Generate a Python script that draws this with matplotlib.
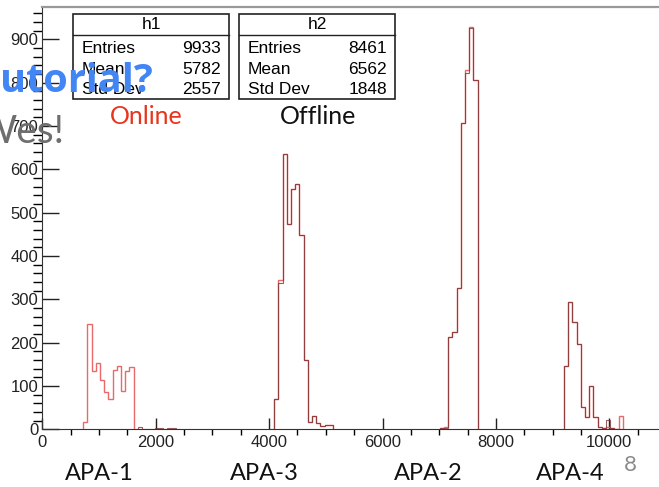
import numpy as np
import matplotlib
matplotlib.use("Agg")
import matplotlib.pyplot as plt
from matplotlib.patches import Rectangle
from matplotlib.lines import Line2D
from matplotlib.ticker import MultipleLocator

# ---------------- data ----------------
bin_width = 74

apa1_start = 723
online_apa1 = [17, 242, 134, 152, 114, 85, 70, 137, 147, 89, 134, 144]
offline_apa1 = [0] * 12

bump_start = 1685
online_bump = [0, 0, 0, 0, 0, 0, 0, 0, 0, 0]
offline_bump = [6, 0, 0, 0, 2, 2, 1, 2, 2, 0]

apa3_start = 4090
online_apa3 = [71, 345, 635, 473, 554, 565, 448, 160, 17, 30, 15, 7, 11, 11]
offline_apa3 = [71, 337, 635, 473, 554, 565, 448, 160, 17, 30, 15, 7, 11, 11]

apa2_start = 7012
online_apa2 = [3, 5, 212, 225, 325, 708, 829, 928, 806]
offline_apa2 = [2, 4, 212, 225, 325, 708, 822, 925, 806]

apa4_start = 9201
online_apa4 = [146, 294, 248, 198, 52, 28, 100, 28, 6, 2, 6, 2, 0, 30]
offline_apa4 = [146, 294, 248, 198, 52, 28, 100, 28, 6, 2, 22, 4, 0, 0]

stats_h1 = {"name": "h1", "Entries": "9933", "Mean": "5782", "Std Dev": "2557"}
stats_h2 = {"name": "h2", "Entries": "8461", "Mean": "6562", "Std Dev": "1848"}

apa_labels = ["APA-1", "APA-3", "APA-2", "APA-4"]

# ---------------- figure ----------------
W_px, H_px = 659, 487
fig = plt.figure(figsize=(W_px / 100, H_px / 100), dpi=100)
fig.patch.set_facecolor("white")

def fx(x):
    return x / W_px

def fy(y):
    return 1 - y / H_px

ax_left, ax_top, ax_bottom = 42.3, 7.3, 429.3
x_max = 11500
px_per_unit = 0.0567
ax_right = ax_left + x_max * px_per_unit
ax = fig.add_axes([fx(ax_left), fy(ax_bottom), (ax_right - ax_left) / W_px,
                   (ax_bottom - ax_top) / H_px])
ax.set_xlim(0, x_max)
ax.set_ylim(0, (ax_bottom - ax_top) / 0.4333)

online_color = "#E86A6A"
offline_color = "#7E3434"

segments = [
    (apa1_start, online_apa1, offline_apa1),
    (bump_start, online_bump, offline_bump),
    (apa3_start, online_apa3, offline_apa3),
    (apa2_start, online_apa2, offline_apa2),
    (apa4_start, online_apa4, offline_apa4),
]
for start, on, off in segments:
    edges = start + bin_width * np.arange(len(on) + 1)
    if any(v > 0 for v in on):
        ax.stairs(on, edges, color=online_color, lw=1.0, zorder=3)
    if any(v > 0 for v in off):
        ax.stairs(off, edges, color=offline_color, lw=0.8, alpha=0.8, zorder=4)

ax.spines["right"].set_visible(False)
ax.spines["top"].set_color("#999999")
ax.spines["top"].set_linewidth(1.6)
ax.spines["left"].set_color("#333333")
ax.spines["bottom"].set_color("#333333")

ax.xaxis.set_major_locator(MultipleLocator(2000))
ax.xaxis.set_minor_locator(MultipleLocator(500))
ax.yaxis.set_major_locator(MultipleLocator(100))
ax.yaxis.set_minor_locator(MultipleLocator(20))
ax.tick_params(axis="both", direction="in", labelsize=12, colors="#222222",
               labelfontfamily="Liberation Sans")
ax.tick_params(axis="x", which="major", length=8, width=1, pad=4, top=False)
ax.tick_params(axis="x", which="minor", length=4.5, width=1, top=False)
ax.tick_params(axis="y", which="major", length=12.5, width=1, pad=3, right=False)
ax.tick_params(axis="y", which="minor", length=6.5, width=1, right=False)

# ---------------- stats boxes ----------------
def stats_box(st, left, right, top, bottom, header_line):
    fig.add_artist(Rectangle((fx(left), fy(bottom)), fx(right) - fx(left),
                             fy(top) - fy(bottom), transform=fig.transFigure,
                             facecolor="white", edgecolor="#222222", lw=1.2,
                             zorder=5))
    fig.add_artist(Line2D([fx(left), fx(right)], [fy(header_line)] * 2,
                          transform=fig.transFigure, color="#222222", lw=1.0,
                          zorder=6))
    fig.text(fx((left + right) / 2), fy((top + header_line) / 2), st["name"],
             ha="center", va="center", fontsize=12.5,
             family="Liberation Sans", zorder=7)
    for key, base in zip(["Entries", "Mean", "Std Dev"], [53, 74, 94.5]):
        fig.text(fx(left + 8.5), fy(base), key, ha="left", va="baseline",
                 fontsize=12.5, family="Liberation Sans", zorder=7)
        fig.text(fx(right - 7.8), fy(base), st[key], ha="right", va="baseline",
                 fontsize=12.5, family="Liberation Sans", zorder=7)

stats_box(stats_h1, 73.3, 229, 14.3, 99, 35)
stats_box(stats_h2, 239, 395, 14.3, 99, 34.5)

# ---------------- slide text ----------------
fig.text(fx(146.5), fy(116), "Online", ha="center", va="center", fontsize=18,
         family="Lato", color="#E8341C", zorder=8)
fig.text(fx(318.5), fy(116), "Offline", ha="center", va="center", fontsize=18,
         family="Lato", color="#111111", zorder=8)
fig.text(fx(0), fy(91.5), "utorial?", ha="left", va="baseline", fontsize=28.5,
         family="Open Sans", weight="bold", color="#4285F4", zorder=9)
fig.text(fx(65), fy(143), "Wes!", ha="right", va="baseline", fontsize=28,
         family="Lato", color="#6E6E6E", zorder=9)

for lab, xc in zip(apa_labels, [99.5, 264, 428, 570]):
    fig.text(fx(xc), fy(474), lab, ha="center", va="center", fontsize=17,
             family="Lato", color="#111111")
fig.text(fx(630), fy(465), "8", ha="center", va="center", fontsize=16,
         family="Lato", color="#8A8A8A")

fig.savefig("out.png", dpi=100)
